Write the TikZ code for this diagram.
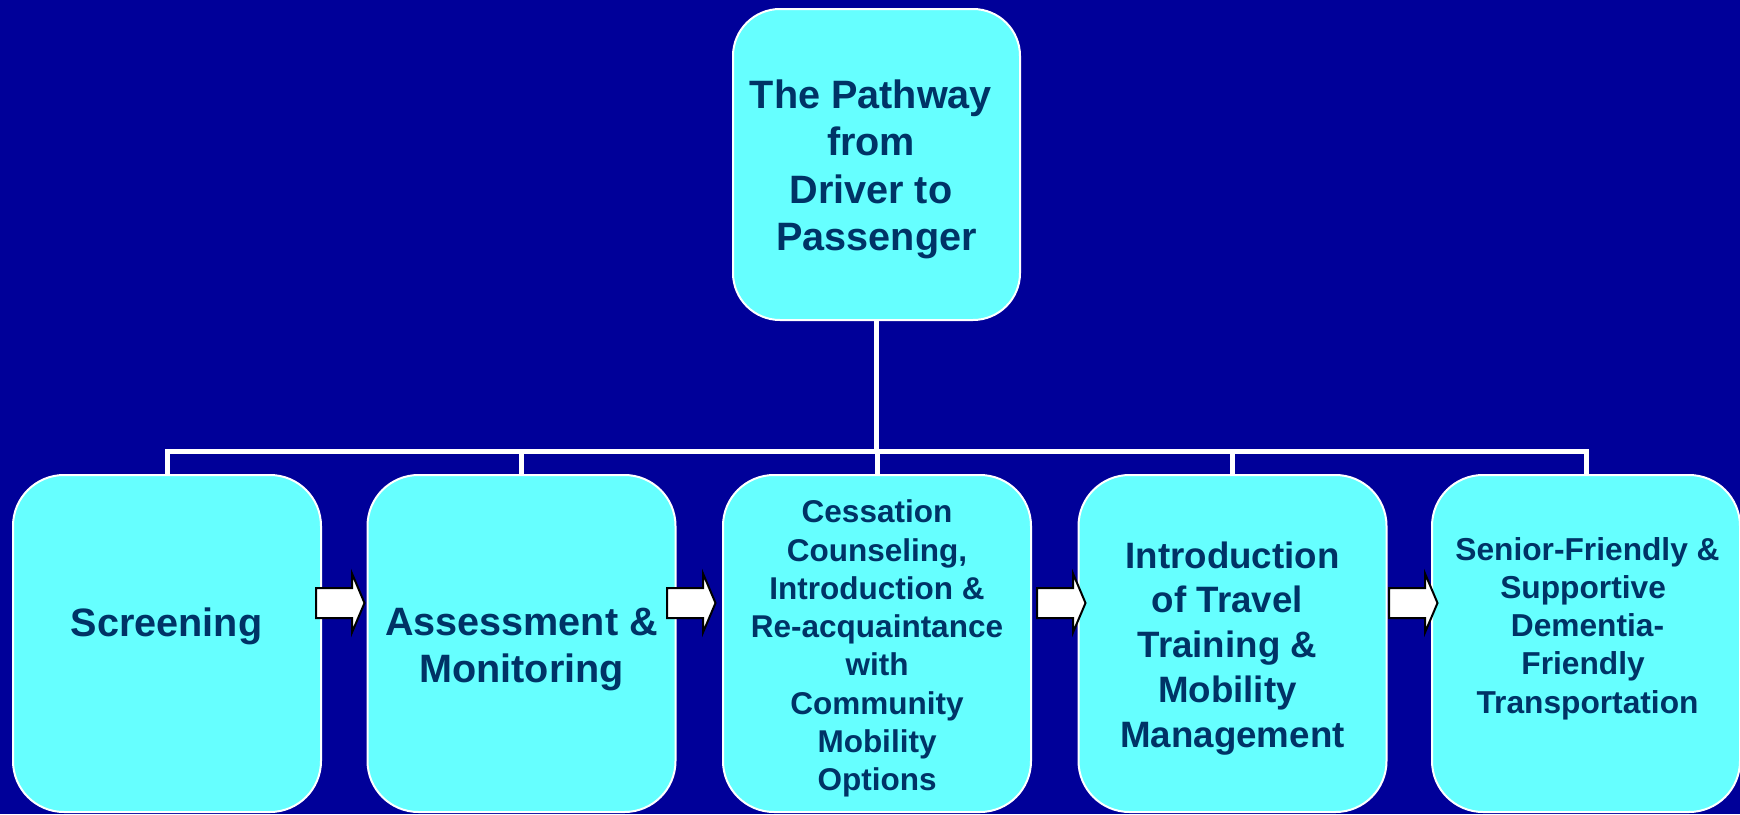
\documentclass[tikz,border=0pt]{standalone}
\usepackage{fontspec}
\setmainfont{Liberation Sans}
\definecolor{slidebg}{HTML}{000099}
\definecolor{boxfill}{HTML}{66FFFF}
\definecolor{boxtext}{HTML}{003366}
% small kern that keeps a trailing word space on a line
\newcommand\trailsp{\kern0.278em}
% invisible strut fixing the top of each label 40pt above its first baseline
\newcommand\topline{\rule{0pt}{40pt}}
\tikzset{
  headbox/.style={draw=white, line width=2pt, fill=boxfill, rounded corners=47pt,
    minimum width=287pt, minimum height=311pt, inner sep=0pt, outer sep=0pt, anchor=north west},
  stagebox/.style={draw=white, line width=2pt, fill=boxfill, rounded corners=51pt,
    minimum width=308pt, minimum height=337pt, inner sep=0pt, outer sep=0pt, anchor=north west},
  boxlabel/.style={text=boxtext, align=center, inner sep=0pt, outer sep=0pt, anchor=north},
  bus/.style={draw=white, line width=5pt},
  flowarrow/.style={draw=black, fill=white, line width=2pt, line join=miter},
  pics/stepnext/.style={code={
    \path[flowarrow] (0,-15) -- (36,-15) -- (36,-29.5) -- (48.5,0) -- (36,29.5)
      -- (36,15) -- (0,15) -- cycle;}}
}
\begin{document}
\begin{tikzpicture}[x=1pt,y=-1pt]
  \useasboundingbox (0,0) rectangle (1740,814);
  \fill[slidebg] (0,0) rectangle (1740,814);

  % boxes
  \node[headbox]  (head) at (733,9) {};
  \node[stagebox] (s1) at (13,475) {};
  \node[stagebox] (s2) at (367.5,475) {};
  \node[stagebox] (s3) at (723,475) {};
  \node[stagebox] (s4) at (1078.5,475) {};
  \node[stagebox] (s5) at (1432,475) {};

  % tree connectors
  \coordinate (busy) at (0,451);
  \draw[bus] (head.south) -- (head.south |- busy);
  \draw[bus] (s1.north) |- (s5.north |- busy) -- (s5.north);
  \foreach \k in {s2,s3,s4}
    \draw[bus] (\k.north) -- (\k.north |- busy);

  % block arrows between the stages
  \pic at ([xshift=-5pt,yshift=40.5pt]s1.east) {stepnext};
  \pic at ([xshift=-8.5pt,yshift=40.5pt]s2.east) {stepnext};
  \pic at ([xshift=6pt,yshift=40.5pt]s3.east) {stepnext};
  \pic at ([xshift=2.5pt,yshift=40.5pt]s4.east) {stepnext};

  % labels
  \node[boxlabel, font=\fontsize{39.6}{47.5}\selectfont\bfseries] (headtext) at (876.5,68)
    {\topline The Pathway\trailsp\\from\trailsp\\Driver to\trailsp\\Passenger};
  \node[boxlabel, font=\fontsize{39.6}{47.5}\selectfont\bfseries] (t1) at (166.5,596)
    {\topline Screening};
  \node[boxlabel, font=\fontsize{39.6}{47.5}\selectfont\bfseries] (t2) at (521.5,595)
    {\topline Assessment \&\\Monitoring};
  \node[boxlabel, font=\fontsize{31.5}{38.3}\selectfont\bfseries] (t3) at (877,482.7)
    {\topline Cessation\\Counseling,\\Introduction \&\\Re-acquaintance\\with\\Community\\Mobility\\Options};
  \node[boxlabel, font=\fontsize{36.7}{44.8}\selectfont\bfseries] (t4) at (1232.5,528)
    {\topline Introduction\\of Travel\trailsp\\Training \&\trailsp\\Mobility\trailsp\\Management};
  \node[boxlabel, font=\fontsize{31.7}{38.3}\selectfont\bfseries] (t5) at (1587.5,520)
    {\topline Senior-Friendly \&\\Supportive\trailsp\\Dementia-\\Friendly\trailsp\\Transportation};
\end{tikzpicture}
\end{document}
